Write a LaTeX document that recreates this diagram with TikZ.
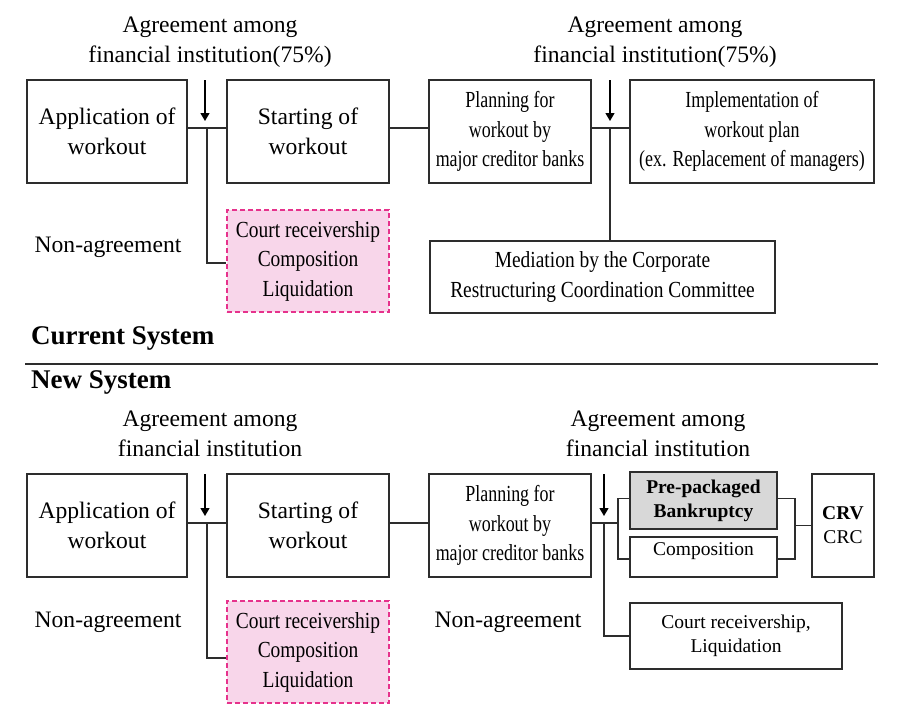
\documentclass[tikz,border=0pt]{standalone}
\usepackage{fontspec}
\setmainfont{Liberation Serif}
\newfontfamily\condA[FakeStretch=0.78]{Liberation Serif}
\newfontfamily\condB[FakeStretch=0.845]{Liberation Serif}
\usetikzlibrary{arrows.meta}
\definecolor{pinkfill}{RGB}{248,214,234}
\definecolor{pinkline}{RGB}{230,50,140}
\definecolor{grayfill}{RGB}{216,216,216}
\definecolor{lineclr}{RGB}{45,45,45}
\begin{document}
\begin{tikzpicture}[x=1pt,y=-1pt,
  box/.style={draw=lineclr, line width=1.3pt, align=center, inner sep=0pt, anchor=center},
  dbox/.style={box, draw=pinkline, fill=pinkfill, dash pattern=on 5pt off 3pt},
  gbox/.style={box, fill=grayfill},
  bigtxt/.style={font=\fontsize{23.6}{30}\selectfont},
  ctxtA/.style={font=\condA\fontsize{23}{29.5}\selectfont},
  ctxtB/.style={font=\condB\fontsize{23}{29.5}\selectfont},
  smalltxt/.style={font=\fontsize{19.5}{24}\selectfont},
  lbl/.style={align=center, inner sep=0pt},
  conn/.style={draw=lineclr, line width=1.3pt},
  arr/.style={draw=black, line width=1.3pt, -{Triangle[width=9pt,length=8pt]}},
  head/.style={font=\fontsize{27}{32}\selectfont\bfseries, inner sep=0pt, anchor=west}
]
\useasboundingbox (0,0) rectangle (898,724);

% ---------------- Current system ----------------
\node[lbl, bigtxt] (ag1) at (210,42) {Agreement among\\financial institution(75\%)};
\node[lbl, bigtxt] (ag2) at (655,42) {Agreement among\\financial institution(75\%)};

\node[box, bigtxt, minimum width=160pt, minimum height=103pt] (app1) at (107,131.5) {Application of\\workout};
\node[box, bigtxt, minimum width=162pt, minimum height=103pt] (start1) at (308,131.5) {Starting of\\workout};
\node[box, ctxtA, minimum width=162pt, minimum height=103pt] (plan1) at (510,131.5) {Planning for\\workout by\\major creditor banks};
\node[box, ctxtA, minimum width=244pt, minimum height=103pt] (impl1) at (752,131.5) {Implementation of\\workout plan\\(ex. Replacement of managers)};
\node[dbox, ctxtB, minimum width=162pt, minimum height=102pt] (court1) at (308,261) {Court receivership\\Composition\\Liquidation};
\node[box, ctxtB, minimum width=345pt, minimum height=72pt] (med1) at (602.5,277) {Mediation by the Corporate\\Restructuring Coordination Committee};
\node[lbl, bigtxt] (non1) at (108,247) {Non-agreement};

\coordinate (j1) at (207,128);
\coordinate (j2) at (610,128);
\coordinate (a1s) at (205,80);
\coordinate (a1e) at (205,121);
\coordinate (a2s) at (610,80);
\coordinate (a2e) at (610,121);

\draw[conn] (app1.east|-j1) -- (start1.west|-j1);
\draw[conn] (j1) |- ([yshift=-2pt]court1.west);
\draw[conn] (start1.east|-j1) -- (plan1.west|-j1);
\draw[conn] (plan1.east|-j2) -- (impl1.west|-j2);
\draw[conn] (j2) -- (med1.north-|j2);
\draw[arr] (a1s) -- (a1e);
\draw[arr] (a2s) -- (a2e);

\node[head] (cur) at (31,338) {Current System};
\coordinate (r1) at (25,364);
\coordinate (r2) at (878,364);
\draw[conn] (r1) -- (r2);
\node[head] (new) at (31,382) {New System};

% ---------------- New system ----------------
\node[lbl, bigtxt] (ag3) at (210,434) {Agreement among\\financial institution};
\node[lbl, bigtxt] (ag4) at (658,434) {Agreement among\\financial institution};

\node[box, bigtxt, minimum width=160pt, minimum height=103pt] (app2) at (107,525.5) {Application of\\workout};
\node[box, bigtxt, minimum width=162pt, minimum height=103pt] (start2) at (308,525.5) {Starting of\\workout};
\node[box, ctxtA, minimum width=162pt, minimum height=103pt] (plan2) at (510,525.5) {Planning for\\workout by\\major creditor banks};
\node[dbox, ctxtB, minimum width=162pt, minimum height=102pt] (court2) at (308,652) {Court receivership\\Composition\\Liquidation};
\node[lbl, bigtxt] (non2) at (108,622) {Non-agreement};
\node[lbl, bigtxt] (non3) at (508,622) {Non-agreement};

\node[gbox, smalltxt, font=\fontsize{19.5}{24}\selectfont\bfseries, minimum width=147pt, minimum height=57pt] (pre) at (703.5,500.5) {Pre-packaged\\Bankruptcy};
\node[box, minimum width=147pt, minimum height=40pt] (comp) at (703.5,557) {};
\node[lbl, smalltxt] (comptxt) at (703.5,551) {Composition};
\node[box, smalltxt, minimum width=62pt, minimum height=103pt] (crv) at (843,525.5) {\textbf{CRV}\\CRC};
\node[box, smalltxt, minimum width=212pt, minimum height=66pt] (court3) at (736,636) {Court receivership,\\Liquidation};

\coordinate (j3) at (207,523);
\coordinate (j4) at (604,523);
\coordinate (bl) at (618,523);
\coordinate (br) at (795,525.5);
\coordinate (a3s) at (205,474);
\coordinate (a3e) at (205,516);
\coordinate (a4s) at (604,474);
\coordinate (a4e) at (604,516);

\draw[conn] (app2.east|-j3) -- (start2.west|-j3);
\draw[conn] (j3) |- ([yshift=-6pt]court2.west);
\draw[conn] (start2.east|-j3) -- (plan2.west|-j3);
\draw[conn] (plan2.east|-j4) -- (bl);
\draw[conn] ([yshift=2pt]pre.west) -| (bl) |- ([yshift=-2pt]comp.west);
\draw[conn] ([yshift=2pt]pre.east) -| (br) |- ([yshift=-2pt]comp.east);
\draw[conn] (br) -- (crv.west);
\draw[conn] (j4) |- (court3.west);
\draw[arr] (a3s) -- (a3e);
\draw[arr] (a4s) -- (a4e);
\end{tikzpicture}
\end{document}
